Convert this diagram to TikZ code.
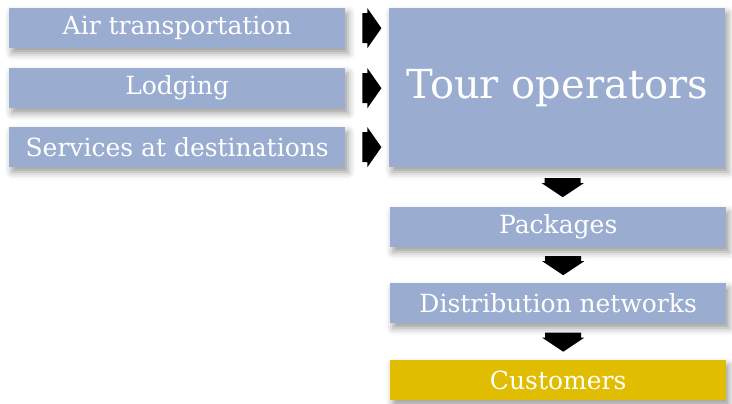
\documentclass[tikz,border=0pt]{standalone}
\usepackage{fontspec}
\setmainfont{DejaVu Serif}
\usetikzlibrary{shadows.blur}
\definecolor{boxblue}{HTML}{9AADD0}
\definecolor{boxgold}{HTML}{E0BD00}
\begin{document}
\begin{tikzpicture}[x=1pt,y=-1pt,
  box/.style={fill=boxblue, draw=none, inner sep=0pt, anchor=north west,
    text=white, font=\fontsize{25}{30}\selectfont,
    blur shadow={shadow xshift=3pt, shadow yshift=-5pt, shadow blur radius=7pt,
      shadow opacity=40}},
  rarrow/.style={fill=black, draw=none},
  darrow/.style={fill=black, draw=none}]
  \useasboundingbox (0,0) rectangle (732,404);

  % supplier boxes
  \node[box, minimum width=336pt, minimum height=40pt] (air) at (9,8) {Air transportation};
  \node[box, minimum width=336pt, minimum height=40pt] (lodge) at (9,68) {Lodging};
  \node[box, minimum width=336pt, minimum height=40pt] (serv) at (9,127) {Services at destinations};

  % tour operators
  \node[box, minimum width=336pt, minimum height=159pt, font=\fontsize{40}{46}\selectfont] (tour) at (389,8) {Tour operators};

  % chain to the customer
  \node[box, minimum width=336pt, minimum height=40pt] (pack) at (390,207) {Packages};
  \node[box, minimum width=336pt, minimum height=40pt] (dist) at (390,283) {Distribution networks};
  \node[box, minimum width=336pt, minimum height=40pt, fill=boxgold] (cust) at (390,360) {Customers};

  % block arrows into the tour operators
  \foreach \n in {air,lodge,serv}{
    \path (\n.east) ++(17,0) coordinate (a);
    \fill[rarrow] (a) ++(0,-15) -- ++(5,0) -- ++(0,-5) -- ++(14,20) -- ++(-14,20)
      -- ++(0,-5) -- ++(-5,0) -- cycle;
  }

  % block arrows down the chain
  \foreach \a/\b in {tour/pack,pack/dist,dist/cust}{
    \path (\a.south) -- (\b.north) coordinate[pos=0.5] (m);
    \fill[darrow] (m) ++(-13,-9) -- ++(36,0) -- ++(0,5) -- ++(3,0) -- ++(-21,14)
      -- ++(-21,-14) -- ++(3,0) -- cycle;
  }
\end{tikzpicture}
\end{document}
